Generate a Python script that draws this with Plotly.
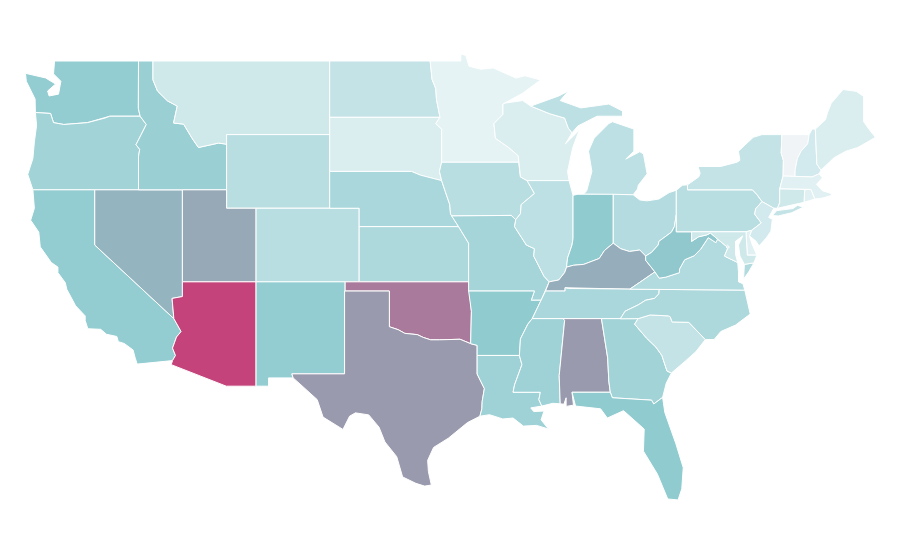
import plotly.graph_objects as go

states = ["WA","OR","CA","NV","ID","MT","WY","UT","AZ","CO","NM","ND","SD","NE","KS","OK","TX","MN","IA","MO","AR","LA","WI","IL","MI","IN","OH","KY","TN","MS","AL","GA","FL","SC","NC","VA","WV","PA","NY","VT","NH","ME","MA","RI","CT","NJ","DE","MD","DC"]
values = [26,22,26,35,24,10,16,40,100,16,26,13,7,20,19,65,45,4,16,21,27,23,7,15,15,27,17,38,20,23,45,22,27,13,19,18,28,16,13,1,9,7,5,5,10,9,5,10,5]
scale_pos = [0,0.04,0.27,0.45,1]
scale_col = ["#f4f5f7","#e5f3f5","#8fcbcf","#9a9aae","#c4437b"]

WA=[(-117.03,49),(-122.73,49),(-122.8,48.3),(-122.3,47.9),(-122.46,47.2),(-123.1,47.1),(-123.2,47.37),(-122.66,47.75),(-123.34,48.08),(-124.7,48.33),(-124.65,47.9),(-124.05,46.93),(-124.03,46.2),(-123,46.15),(-122.8,45.65),(-122.1,45.55),(-120.5,45.65),(-119.3,45.9),(-118.98,46),(-116.92,46),(-117.04,46.42)]
OR=[(-124.03,46.2),(-123.95,45.5),(-124.1,44.6),(-124.2,43.7),(-124.55,42.84),(-124.2,42),(-117.03,42),(-117.03,43.8),(-116.95,44.2),(-117.2,44.45),(-116.85,45),(-116.5,45.55),(-116.92,46),(-118.98,46),(-119.3,45.9),(-120.5,45.65),(-122.1,45.55),(-122.8,45.65),(-123,46.15)]
ID=[(-117.03,49),(-116.05,49),(-116.05,47.98),(-115.74,47.37),(-115.06,46.83),(-114.4,46.55),(-114.65,45.63),(-113.97,45.57),(-113.36,44.76),(-112.96,44.3),(-111.6,44.54),(-111.05,44.48),(-111.05,42),(-117.03,42),(-117.03,43.8),(-116.95,44.2),(-117.2,44.45),(-116.85,45),(-116.5,45.55),(-116.92,46),(-117.04,46.42)]
MT=[(-116.05,49),(-104.05,49),(-104.05,45),(-111.05,45),(-111.05,44.48),(-111.6,44.54),(-112.96,44.3),(-113.36,44.76),(-113.97,45.57),(-114.65,45.63),(-114.4,46.55),(-115.06,46.83),(-115.74,47.37),(-116.05,47.98)]
WY=[(-111.05,45),(-104.05,45),(-104.05,41),(-111.05,41)]
UT=[(-114.05,42),(-111.05,42),(-111.05,41),(-109.05,41),(-109.05,37),(-114.05,37)]
CO=[(-109.05,41),(-102.05,41),(-102.05,37),(-109.05,37)]
NV=[(-120,42),(-114.05,42),(-114.05,36.2),(-114.75,36.1),(-114.63,35),(-120,39)]
CA=[(-124.2,42),(-120,42),(-120,39),(-114.63,35),(-114.14,34.3),(-114.45,34),(-114.72,33.4),(-114.52,33),(-114.72,32.72),(-117.12,32.53),(-117.25,32.85),(-117.4,33.3),(-118,33.65),(-118.4,33.75),(-118.5,34.03),(-119.2,34.15),(-119.6,34.42),(-120.47,34.45),(-120.65,34.9),(-120.65,35.15),(-121.3,35.7),(-121.9,36.6),(-122,36.95),(-122.5,37.5),(-122.5,37.8),(-122.95,38.05),(-123.7,38.9),(-123.8,39.7),(-124.35,40.35),(-124.1,41)]
AZ=[(-114.05,37),(-109.05,37),(-109.05,31.33),(-111.07,31.33),(-114.81,32.5),(-114.72,32.72),(-114.52,33),(-114.72,33.4),(-114.45,34),(-114.14,34.3),(-114.63,35),(-114.75,36.1),(-114.05,36.2)]
NM=[(-109.05,37),(-103,37),(-103.04,32),(-106.62,32),(-106.53,31.78),(-108.2,31.78),(-108.2,31.33),(-109.05,31.33)]
RED=[(-94.48,33.64),(-95.2,33.88),(-96,33.85),(-96.6,33.85),(-97.2,33.85),(-97.7,33.98),(-98.1,34.13),(-98.95,34.2),(-99.4,34.4),(-100,34.56)]
TX=[(-103.04,36.5),(-100,36.5)]+RED[::-1]+[(-94.04,33.55),(-94.04,33),(-94.04,31.99),(-93.55,31.2),(-93.7,30.5),(-93.72,30.1),(-93.85,29.7),(-94.7,29.35),(-95.1,29.1),(-96,28.5),(-97,28),(-97.4,27.3),(-97.35,26.7),(-97.15,25.96),(-97.6,25.9),(-98.2,26.05),(-99.1,26.4),(-99.5,27.5),(-100.3,28.3),(-100.7,29.1),(-101.4,29.77),(-102.3,29.88),(-102.7,29.7),(-103.15,28.98),(-104.5,29.65),(-104.9,30.6),(-106,31.4),(-106.53,31.78),(-106.62,32),(-103.04,32)]
OK=[(-103,37),(-94.62,37),(-94.43,35.4)]+RED+[(-100,36.5),(-103,36.5)]
KS=[(-102.05,40),(-95.3,40),(-94.62,39.1),(-94.62,37),(-102.05,37)]
NE=[(-104.05,43),(-98.5,43),(-97.9,42.8),(-96.45,42.5),(-96.2,41.9),(-95.9,41.2),(-95.85,40.7),(-95.3,40),(-102.05,40),(-102.05,41),(-104.05,41)]
SD=[(-104.05,45.94),(-96.56,45.94),(-96.85,45.6),(-96.45,45.3),(-96.45,43.5),(-96.6,43),(-96.45,42.5),(-97.9,42.8),(-98.5,43),(-104.05,43)]
ND=[(-104.05,49),(-97.23,49),(-97.1,48),(-96.85,47.5),(-96.8,46.9),(-96.56,45.94),(-104.05,45.94)]
MN=[(-97.23,49),(-95.15,49),(-95.15,49.38),(-94.8,49.3),(-94.6,48.72),(-93.8,48.55),(-92.95,48.62),(-92,48.3),(-91.4,48.07),(-90.8,48.2),(-89.74,47.97),(-90.95,47.25),(-92.1,46.72),(-92.29,46.66),(-92.29,46.1),(-92.9,45.6),(-92.8,44.8),(-91.9,44.3),(-91.25,43.85),(-91.22,43.5),(-96.45,43.5),(-96.45,45.3),(-96.85,45.6),(-96.56,45.94),(-96.8,46.9),(-96.85,47.5),(-97.1,48)]
IA=[(-96.45,43.5),(-91.22,43.5),(-91.1,42.7),(-90.65,42.5),(-90.15,41.8),(-91.05,41.2),(-91.1,40.7),(-91.42,40.38),(-91.73,40.61),(-95.77,40.58),(-95.85,40.7),(-95.9,41.2),(-96.2,41.9),(-96.45,42.5),(-96.6,43)]
MO=[(-95.77,40.58),(-91.73,40.61),(-91.42,40.38),(-91.5,40),(-90.7,39),(-90.15,38.8),(-90.2,38.4),(-89.5,37.3),(-89.15,37),(-89.4,36.5),(-89.7,36),(-90.37,36),(-90.15,36.5),(-94.62,36.5),(-94.62,39.1),(-95.3,40)]
AR=[(-94.62,36.5),(-90.15,36.5),(-90.37,36),(-89.7,36),(-90.3,35),(-90.6,34.7),(-91.1,33.9),(-91.17,33),(-94.04,33),(-94.04,33.55),(-94.48,33.64),(-94.43,35.4)]
LA=[(-94.04,33),(-91.17,33),(-91,32.5),(-91.5,31.4),(-91.6,31),(-89.75,31),(-89.85,30.6),(-89.65,30.25),(-90.4,30.15),(-90.2,29.95),(-89.5,29.98),(-89.7,29.5),(-89.2,29),(-90,29.2),(-90.9,29.16),(-91.6,29.6),(-92.3,29.55),(-93.2,29.78),(-93.85,29.7),(-93.72,30.1),(-93.7,30.5),(-93.55,31.2),(-94.04,31.99)]
MS=[(-90.3,35),(-88.2,35),(-88.1,34.9),(-88.47,31.9),(-88.4,30.37),(-88.9,30.4),(-89.65,30.25),(-89.85,30.6),(-89.75,31),(-91.6,31),(-91.5,31.4),(-91,32.5),(-91.17,33),(-91.1,33.9),(-90.6,34.7)]
TN=[(-90.3,35),(-89.7,36),(-89.4,36.5),(-88.07,36.5),(-88.07,36.68),(-87.85,36.64),(-83.68,36.6),(-81.68,36.59),(-81.7,36.35),(-82,36.1),(-82.6,36),(-83.1,35.75),(-84,35.4),(-84.32,34.99),(-88.2,35)]
KY=[(-89.4,36.5),(-89.15,37),(-88.5,37.1),(-88.1,37.5),(-87.97,37.8),(-87.5,37.9),(-86.8,37.95),(-86.3,38.1),(-85.75,38.27),(-85.4,38.7),(-84.8,39.1),(-84.3,38.8),(-83.7,38.65),(-83,38.73),(-82.6,38.4),(-82.6,38.17),(-81.97,37.54),(-83.68,36.6),(-87.85,36.64),(-88.07,36.68),(-88.07,36.5)]
IL=[(-90.65,42.5),(-87.8,42.5),(-87.53,41.7),(-87.53,39.35),(-87.6,39),(-87.9,38.3),(-87.97,37.8),(-88.1,37.5),(-88.5,37.1),(-89.15,37),(-89.5,37.3),(-90.2,38.4),(-90.15,38.8),(-90.7,39),(-91.5,40),(-91.42,40.38),(-91.1,40.7),(-91.05,41.2),(-90.15,41.8)]
IN=[(-87.53,41.7),(-87.2,41.76),(-84.8,41.76),(-84.8,39.1),(-85.4,38.7),(-85.75,38.27),(-86.3,38.1),(-86.8,37.95),(-87.5,37.9),(-87.97,37.8),(-87.9,38.3),(-87.6,39),(-87.53,39.35)]
OH=[(-84.8,41.76),(-83.45,41.73),(-83,41.45),(-82.5,41.4),(-81.7,41.5),(-81,41.85),(-80.52,41.98),(-80.52,40.64),(-80.65,40),(-80.85,39.7),(-81.7,39.2),(-81.75,39),(-82.2,38.6),(-82.6,38.4),(-83,38.73),(-83.7,38.65),(-84.3,38.8),(-84.8,39.1)]
WV=[(-80.52,40.64),(-80.65,40),(-80.85,39.7),(-81.7,39.2),(-81.75,39),(-82.2,38.6),(-82.6,38.4),(-82.6,38.17),(-81.97,37.54),(-81.68,37.2),(-81.25,37.25),(-80.3,37.5),(-80.3,37.7),(-79.95,38.2),(-79.3,38.42),(-78.87,38.77),(-78.35,39.4),(-77.83,39.13),(-77.72,39.32),(-78.2,39.65),(-78.45,39.55),(-79,39.45),(-79.48,39.2),(-79.48,39.72),(-80.52,39.72)]
PA=[(-80.52,41.98),(-80.1,42.25),(-79.76,42.27),(-79.76,42),(-75.35,42),(-75.05,41.75),(-74.7,41.36),(-75.13,40.97),(-75.2,40.68),(-74.75,40.2),(-75.4,39.8),(-75.79,39.72),(-80.52,39.72)]
NY=[(-79.76,42.27),(-79,42.7),(-78.9,42.9),(-79.05,43.27),(-77.5,43.27),(-76.4,43.5),(-76.2,43.6),(-76.3,44.1),(-75.3,44.85),(-74.7,45),(-73.35,45),(-73.4,44),(-73.25,43.6),(-73.27,42.75),(-73.5,42.05),(-73.5,41.3),(-73.65,41),(-73.9,41),(-74.7,41.36),(-75.05,41.75),(-75.35,42),(-79.76,42),None,(-74,40.6),(-73.7,40.87),(-72.6,40.98),(-72.3,41.15),(-71.87,41.07),(-72.7,40.75),(-73.6,40.58)]
NJ=[(-74.7,41.36),(-73.9,41),(-74.25,40.5),(-74,40.4),(-74.1,39.75),(-74.4,39.4),(-74.9,38.95),(-75.1,39.2),(-75.55,39.5),(-75.4,39.8),(-74.75,40.2),(-75.2,40.68),(-75.13,40.97)]
DE=[(-75.79,39.72),(-75.4,39.8),(-75.55,39.5),(-75.4,39.1),(-75.05,38.45),(-75.7,38.45)]
MD=[(-79.48,39.72),(-75.79,39.72),(-75.7,38.45),(-75.05,38.45),(-75.25,38.03),(-75.9,37.95),(-76.2,38.4),(-76.3,39),(-76,39.5),(-76.5,39.2),(-76.5,38.5),(-76.35,38.05),(-77,38.3),(-77.25,38.4),(-77.04,38.8),(-77.12,38.93),(-77.72,39.32),(-78.2,39.65),(-78.45,39.55),(-79,39.45),(-79.48,39.2)]
DC=[(-77.12,38.93),(-77.04,38.99),(-76.91,38.89),(-77.04,38.8)]
VA=[(-83.68,36.6),(-81.68,36.59),(-75.87,36.55),(-76,36.9),(-76.3,37),(-76.3,37.55),(-76.3,37.9),(-76.35,38.05),(-77,38.3),(-77.25,38.4),(-77.04,38.8),(-77.12,38.93),(-77.72,39.32),(-77.83,39.13),(-78.35,39.4),(-78.87,38.77),(-79.3,38.42),(-79.95,38.2),(-80.3,37.7),(-80.3,37.5),(-81.25,37.25),(-81.68,37.2),(-81.97,37.54),None,(-75.25,38.03),(-75.9,37.95),(-75.95,37.15),(-75.6,37.55)]
NC=[(-84.32,34.99),(-84,35.4),(-83.1,35.75),(-82.6,36),(-82,36.1),(-81.7,36.35),(-81.68,36.59),(-75.87,36.55),(-75.5,35.25),(-76.5,34.65),(-77.5,34.3),(-77.95,33.87),(-78.55,33.86),(-79.67,34.8),(-80.8,34.82),(-80.93,35.1),(-81.05,35.15),(-82.3,35.2),(-83.11,35)]
SC=[(-83.11,35),(-82.3,35.2),(-81.05,35.15),(-80.93,35.1),(-80.8,34.82),(-79.67,34.8),(-78.55,33.86),(-79.2,33.2),(-79.9,32.7),(-80.85,32.05),(-81.15,32.15),(-81.5,33),(-81.9,33.45),(-82.55,33.95),(-83.35,34.7)]
GA=[(-85.6,35),(-84.32,34.99),(-83.11,35),(-83.35,34.7),(-82.55,33.95),(-81.9,33.45),(-81.5,33),(-81.15,32.15),(-80.85,32.05),(-81.2,31.5),(-81.45,30.72),(-82.05,30.36),(-82.2,30.57),(-84.86,30.7),(-85,31),(-85.1,31.6),(-85.18,32.87)]
AL=[(-88.2,35),(-85.6,35),(-85.18,32.87),(-85.1,31.6),(-85,31),(-87.6,31),(-87.5,30.3),(-88,30.23),(-88,30.7),(-88.15,30.35),(-88.4,30.37),(-88.47,31.9),(-88.1,34.9)]
FL=[(-87.6,31),(-85,31),(-84.86,30.7),(-82.2,30.57),(-82.05,30.36),(-81.45,30.72),(-81.3,29.9),(-80.85,28.9),(-80.55,28.2),(-80.05,26.9),(-80.15,25.75),(-80.4,25.15),(-81.1,25.2),(-81.8,26.55),(-82.75,27.8),(-82.7,29),(-83.4,29.5),(-84.1,30),(-85.2,29.6),(-85.66,30.1),(-87.36,30.25)]
MI=[(-86.82,41.76),(-84.8,41.76),(-83.45,41.73),(-83.15,42.05),(-83.1,42.25),(-82.5,42.87),(-82.75,43.95),(-83,44.07),(-83.95,43.67),(-83.4,44.1),(-83.4,45.3),(-84.85,45.7),(-85.1,45.6),(-86.1,44.8),(-86.48,44.1),(-86.25,43),(-86.6,41.95),None,(-90.4,46.55),(-88.5,47.1),(-87.85,47.37),(-88.4,46.85),(-87,46.45),(-85.1,46.66),(-84.17,46.28),(-84.17,46),(-85.9,46),(-87.2,45.47),(-87.6,45.1),(-87.85,45.35),(-88.1,45.9),(-89.1,46.13)]
WI=[(-92.29,46.66),(-92.1,46.72),(-90.95,46.85),(-90.4,46.55),(-89.1,46.13),(-88.1,45.9),(-87.85,45.35),(-87.6,45.1),(-88.04,44.5),(-87.1,45.25),(-87.55,44.3),(-87.8,43.4),(-87.9,43),(-87.8,42.5),(-90.65,42.5),(-91.1,42.7),(-91.22,43.5),(-91.25,43.85),(-91.9,44.3),(-92.8,44.8),(-92.9,45.6),(-92.29,46.1)]
VT=[(-73.35,45),(-71.5,45),(-71.6,44.5),(-72.05,44.1),(-72.3,43.7),(-72.45,43.1),(-72.46,42.73),(-73.27,42.75),(-73.25,43.6),(-73.4,44)]
NH=[(-71.5,45),(-71.3,45.3),(-71.08,45.3),(-70.98,43.4),(-70.7,43.07),(-70.82,42.87),(-71.3,42.7),(-72.46,42.73),(-72.45,43.1),(-72.3,43.7),(-72.05,44.1),(-71.6,44.5)]
ME=[(-71.08,45.3),(-70.4,45.8),(-70.25,46.2),(-70,46.7),(-69.2,47.45),(-68.3,47.35),(-67.8,47.07),(-67.8,45.7),(-67.45,45.3),(-67,44.85),(-68.2,44.3),(-69,44.1),(-69.8,43.75),(-70.6,43.1),(-70.7,43.07),(-70.98,43.4)]
MA=[(-73.5,42.05),(-73.27,42.75),(-72.46,42.73),(-71.3,42.7),(-70.82,42.87),(-70.6,42.65),(-71,42.3),(-70.6,41.95),(-70,41.8),(-70.2,42.07),(-69.95,41.7),(-70.6,41.55),(-71.12,41.5),(-71.38,42.02),(-71.8,42.02)]
RI=[(-71.8,42.02),(-71.38,42.02),(-71.12,41.5),(-71.85,41.32)]
CT=[(-73.5,42.05),(-71.8,42.02),(-71.85,41.32),(-73.65,41),(-73.5,41.3)]

outlines = {s: globals()[s] for s in states}

def colour(t):
    rgb = [tuple(int(c[i:i+2], 16) for i in (1, 3, 5)) for c in scale_col]
    for k in range(len(scale_pos) - 1):
        a, b = scale_pos[k], scale_pos[k + 1]
        if t <= b:
            f = (t - a) / (b - a)
            return "rgb(%d,%d,%d)" % tuple(round(p + (q - p) * f) for p, q in zip(rgb[k], rgb[k + 1]))
    return scale_col[-1]

fig = go.Figure()
for st, v in zip(states, values):
    xs, ys, ring = [], [], []
    for p in outlines[st] + [None]:
        if p is None:
            ring.append(ring[0])
            xs += [q[0] for q in ring] + [None]
            ys += [q[1] for q in ring] + [None]
            ring = []
        else:
            ring.append(p)
    fig.add_trace(go.Scatter(x=xs, y=ys, mode="lines", fill="toself", name=st,
        fillcolor=colour(v / 100),
        line=dict(color="white", width=1), hoveron="fills", text=f"{st}: {v}", hoverinfo="text", showlegend=False))
fig.update_xaxes(visible=False, range=[-125.89,-64.79])
fig.update_yaxes(visible=False, range=[21.45,51.88])
fig.update_layout(width=900, height=560, margin=dict(l=0,r=0,t=0,b=0), paper_bgcolor="white", plot_bgcolor="white")
fig.write_html("out.html")
